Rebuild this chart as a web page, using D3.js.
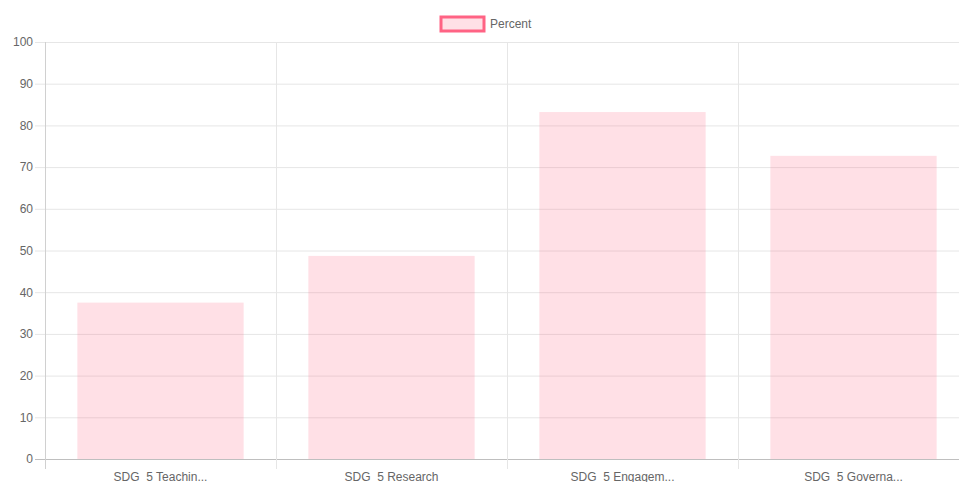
<!DOCTYPE html>
<html>
<head>
<meta charset="utf-8">
<script src="https://cdn.jsdelivr.net/npm/d3@7"></script>
<style>
  html, body { margin: 0; padding: 0; background: #fff; overflow: hidden; }
  text { font-family: "Liberation Sans", Arial, Helvetica, sans-serif; }
</style>
</head>
<body>
<div id="chart"></div>
<script>
// data
const categories = ["SDG  5 Teachin...", "SDG  5 Research", "SDG  5 Engagem...", "SDG  5 Governa..."];
const percentValues = [37.5, 48.7, 83.2, 72.7];
const yTicks = [0, 10, 20, 30, 40, 50, 60, 70, 80, 90, 100];
const seriesName = "Percent";

const W = 959, H = 482;
const plotLeft = 45, plotRight = 969, plotTop = 42, plotBottom = 459;
const gridColor = "#e6e6e6";
const textColor = "#666";
const fillColor = "rgba(255,99,132,0.2)";
const strokeColor = "rgb(255,99,132)";

const svg = d3.select("#chart").append("svg")
  .attr("width", W)
  .attr("height", H);

const x = d3.scaleBand()
  .domain(categories)
  .range([plotLeft, plotRight])
  .padding(0);

const y = d3.scaleLinear()
  .domain([0, 100])
  .range([plotBottom, plotTop]);

// horizontal gridlines + y tick labels
const gy = svg.append("g")
  .attr("transform", `translate(${plotLeft},0)`)
  .call(d3.axisLeft(y)
    .tickValues(yTicks)
    .tickSizeInner(-(plotRight - plotLeft))
    .tickSizeOuter(0)
    .tickPadding(12)
    .tickFormat(d3.format("d")));

gy.select(".domain").remove();
gy.selectAll(".tick line")
  .attr("x1", -10)
  .attr("stroke", d => d === 0 ? "#bfbfbf" : gridColor);
gy.selectAll(".tick text")
  .attr("fill", textColor)
  .style("font-size", "12px")
  .style("font-family", "'Liberation Sans', Arial, sans-serif");

// vertical gridlines at category boundaries
const gx = svg.append("g");
categories.forEach((c, i) => {
  const xv = Math.round(x(c)) + 0.5;
  gx.append("line")
    .attr("x1", xv).attr("x2", xv)
    .attr("y1", plotTop).attr("y2", plotBottom + 10)
    .attr("stroke", i === 0 ? "#d0d0d0" : gridColor)
    .attr("stroke-width", 1);
});

// bars
const barW = x.bandwidth() * 0.72;
svg.append("g")
  .selectAll("rect")
  .data(categories)
  .join("rect")
  .attr("x", d => x(d) + (x.bandwidth() - barW) / 2)
  .attr("y", (d, i) => y(percentValues[i]))
  .attr("width", barW)
  .attr("height", (d, i) => plotBottom - y(percentValues[i]))
  .attr("fill", fillColor);

// x labels
svg.append("g")
  .selectAll("text")
  .data(categories)
  .join("text")
  .attr("x", d => x(d) + x.bandwidth() / 2)
  .attr("y", plotBottom + 22)
  .attr("text-anchor", "middle")
  .attr("fill", textColor)
  .style("font-size", "12px")
  .style("white-space", "pre")
  .text(d => d);

// legend
const legend = svg.append("g");
legend.append("rect")
  .attr("x", 441).attr("y", 17)
  .attr("width", 43).attr("height", 14)
  .attr("fill", fillColor)
  .attr("stroke", strokeColor)
  .attr("stroke-width", 3);
legend.append("text")
  .attr("x", 490)
  .attr("y", 24)
  .attr("dy", "0.35em")
  .attr("fill", textColor)
  .style("font-size", "12px")
  .text(seriesName);
</script>
</body>
</html>
